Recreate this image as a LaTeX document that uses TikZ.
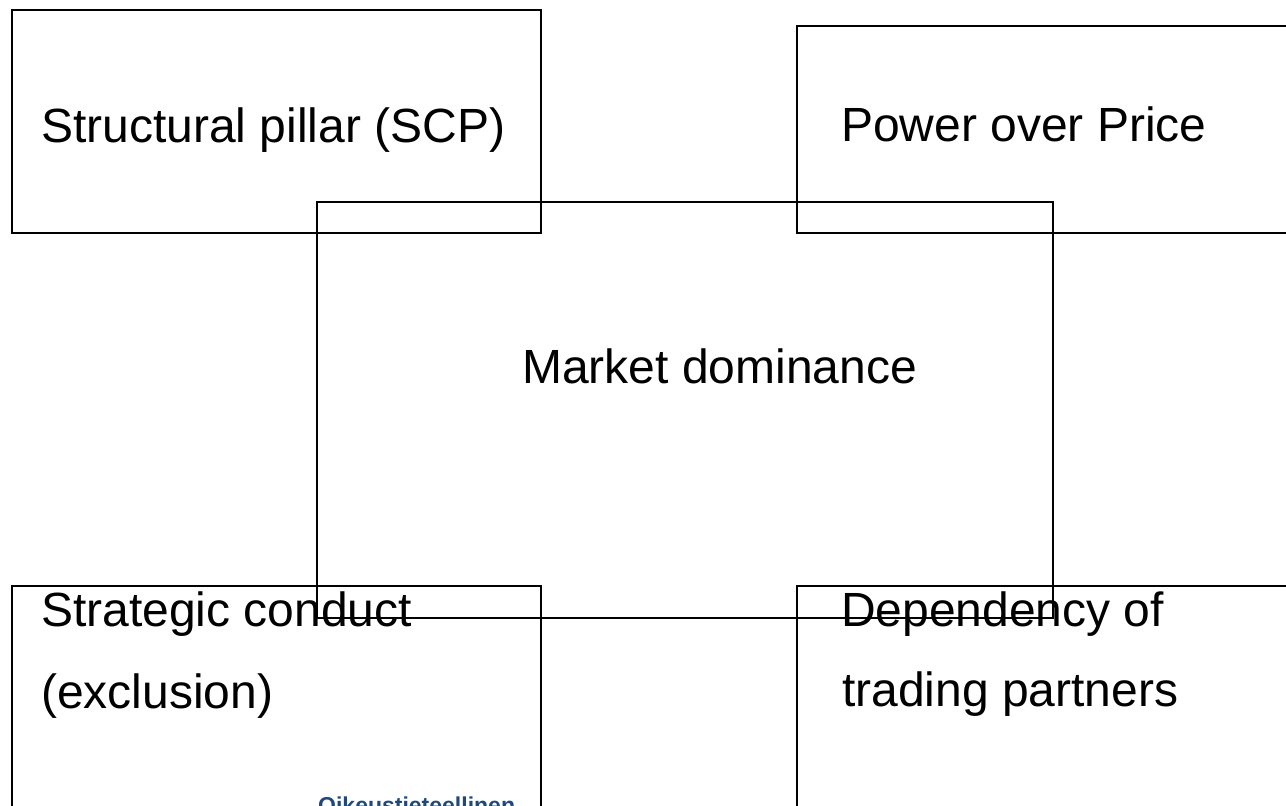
\documentclass[tikz,border=0pt]{standalone}
\usepackage{fontspec}
\setmainfont{Liberation Sans}
\usetikzlibrary{positioning}
\definecolor{uniblue}{RGB}{31,73,125}

\begin{document}
\begin{tikzpicture}[x=1pt,y=-1pt,
pillar/.style={draw, line width=2pt, inner sep=0pt, anchor=north west},
lbl/.style={anchor=base west, inner sep=0pt, font=\fontsize{48}{58}\selectfont}]
\useasboundingbox (0,0) rectangle (1286,806);
\clip (0,0) rectangle (1286,806);
% Top left
\node[pillar, minimum width=529pt, minimum height=223pt] (sp) at (11,9) {};
\node[lbl] (sptxt) at (41,142) {Structural pillar (SCP)};
% Top right
\node[pillar, minimum width=520pt, minimum height=207pt] (pop) at (796,25) {};
\node[lbl] (poptxt) at (841,141) {Power over Price};
% Middle
\node[pillar, minimum width=736pt, minimum height=416pt] (md) at (316,201) {};
\node[lbl] (mdtxt) at (522,383) {Market dominance};
% Bottom left
\node[pillar, minimum width=529pt, minimum height=260pt] (sc) at (11,585) {};
\node[lbl] (sctxt) at (41,626) {Strategic conduct};
\node[lbl] (sctxtb) at (41,708) {(exclusion)};
% Bottom right
\node[pillar, minimum width=520pt, minimum height=260pt] (dtp) at (796,585) {};
\node[lbl] (dtptxt) at (841,626) {Dependency of};
\node[lbl] (dtptxtb) at (842,706) {trading partners};
% cut off logo text
\node[anchor=base west, inner sep=0pt, text=uniblue, font=\fontsize{23}{23}\selectfont\bfseries] (logo) at (318,813) {Oikeustieteellinen};
\end{tikzpicture}
\end{document}
